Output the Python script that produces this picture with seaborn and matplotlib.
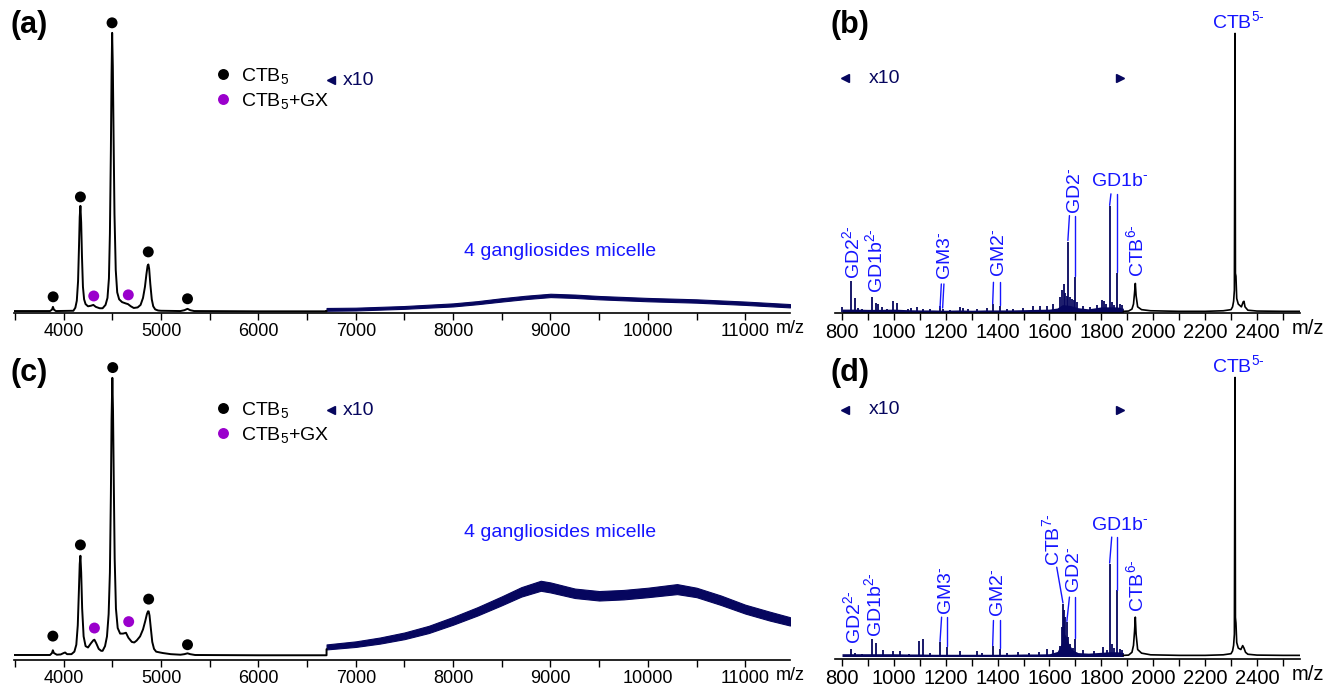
import matplotlib
matplotlib.use("Agg")
import matplotlib.pyplot as plt
from matplotlib.ticker import MultipleLocator
import seaborn as sns
import pandas as pd

NAVY = "#06065e"
BLUE = "#1616ff"
PURPLE = "#9a00cc"

# ---------------- panel (a): full native spectrum ----------------
a_mz = [3490, 3860, 3880, 3890, 3900, 3920, 4100, 4120, 4135, 4148, 4158, 4165, 4172,
        4180, 4188, 4198, 4210, 4225, 4250, 4280, 4305, 4330, 4370, 4400, 4430, 4450,
        4465, 4475, 4485, 4492, 4498, 4505, 4513, 4522, 4535, 4550, 4570, 4600, 4640,
        4660, 4690, 4720, 4760, 4790, 4815, 4835, 4850, 4862, 4870, 4878, 4890, 4905,
        4920, 4940, 4970, 5000, 5200, 5240, 5272, 5300, 5340, 6000, 6700, 6700]
a_int = [0.3, 0.3, 0.8, 1.8, 0.8, 0.3, 0.4, 1.5, 4.0, 11, 24, 34, 38,
         32, 20, 9, 4.5, 2.8, 2.0, 2.2, 2.5, 1.8, 1.3, 1.3, 2.5, 5,
         12, 28, 58, 85, 100, 88, 62, 35, 15, 7, 4.5, 3.5, 3.0,
         2.8, 2.0, 1.4, 1.6, 2.5, 5, 9, 13.5, 16.5, 17, 15.5, 10, 4.5,
         2.0, 0.9, 0.5, 0.4, 0.3, 0.6, 1.1, 0.6, 0.3, 0.2, 0.2, 0.4]
a_mic_mz = [6700, 7000, 7500, 8000, 8250, 8500, 8750, 9000, 9250, 9500, 10000,
            10500, 11000, 11460]
a_mic_int = [0.9, 1.0, 1.6, 2.5, 3.3, 4.3, 5.2, 5.9, 5.6, 5.1, 4.4, 3.9, 3.1, 2.2]
a_mic_half = [0.5, 0.5, 0.5, 0.55, 0.55, 0.6, 0.6, 0.6, 0.6, 0.6, 0.6, 0.6, 0.6, 0.6]
a_dot_mz = [3892, 4172, 4309, 4497, 4664, 4869, 5272]
a_dot_int = [5.4, 41.2, 5.7, 103.6, 6.1, 21.5, 4.7]
a_dot_kind = ["CTB$_5$", "CTB$_5$", "CTB$_5$+GX", "CTB$_5$", "CTB$_5$+GX", "CTB$_5$", "CTB$_5$"]

# ---------------- panel (c) ----------------
c_mz = [3490, 3860, 3880, 3889, 3900, 3930, 3970, 4000, 4015, 4035, 4080, 4110, 4130,
        4145, 4157, 4165, 4172, 4180, 4190, 4205, 4225, 4250, 4280, 4305, 4316, 4335,
        4360, 4385, 4400, 4425, 4445, 4462, 4475, 4485, 4492, 4500, 4507, 4515, 4524,
        4537, 4555, 4580, 4610, 4640, 4665, 4700, 4725, 4750, 4785, 4815, 4838, 4855,
        4866, 4873, 4882, 4895, 4910, 4928, 4950, 4990, 5020, 5100, 5200, 5240, 5272,
        5300, 5350, 6000, 6700, 6700]
c_int = [0.3, 0.3, 1.0, 2.0, 1.0, 0.4, 0.5, 1.0, 1.2, 0.6, 0.6, 1.5, 4,
         11, 24, 33, 36, 30, 17, 7, 3.5, 3.0, 4.5, 5.6, 5.8, 4.5,
         2.5, 1.8, 1.8, 3.5, 7, 15, 30, 58, 85, 100, 88, 62, 35,
         17, 10, 8, 8, 8.3, 6.5, 5.0, 4.8, 5.5, 7, 9.5, 12.5, 15,
         16, 16, 14.5, 10, 5, 2.5, 1.5, 1.2, 1.0, 0.6, 0.4, 0.6, 0.9,
         0.6, 0.3, 0.2, 0.2, 2.4]
c_mic_mz = [6700, 7000, 7250, 7500, 7750, 8000, 8250, 8500, 8700, 8900, 9000,
            9250, 9500, 9750, 10000, 10300, 10500, 10750, 11000, 11250, 11460]
c_mic_int = [3.2, 4.2, 5.5, 7.2, 9.5, 12.6, 16, 19.8, 23, 25.2, 24.6,
             22.5, 21.6, 22, 22.8, 24.0, 22.8, 20, 16.8, 14.3, 12.4]
c_mic_half = [0.9, 1.0, 1.1, 1.2, 1.3, 1.4, 1.5, 1.6, 1.7, 1.8, 1.8,
              1.7, 1.7, 1.7, 1.7, 1.8, 1.7, 1.7, 1.6, 1.6, 1.5]
c_dot_mz = [3889, 4172, 4316, 4504, 4668, 4873, 5272]
c_dot_int = [7.1, 39.9, 10.0, 103.7, 12.3, 20.4, 4.0]
c_dot_kind = a_dot_kind

# ---------------- panel (b): low m/z, x10 region + CTB ions ----------------
b_stick_mz = [800, 808, 836, 850, 863, 876, 889, 917, 931, 940, 953, 972, 995, 1011,
              1030, 1056, 1065, 1090, 1114, 1139, 1178, 1188, 1216, 1255, 1268, 1287,
              1319, 1358, 1381, 1409, 1435, 1461, 1499, 1538, 1563, 1589, 1615, 1641,
              1648, 1655, 1661, 1666, 1671, 1679, 1687, 1695, 1700, 1707, 1731, 1756,
              1782, 1801, 1810, 1818, 1832, 1841, 1849, 1862, 1872, 1881]
b_stick_int = [1.9, 1.0, 11.1, 5.1, 1.7, 1.3, 1.0, 5.7, 3.5, 2.9, 1.9, 1.3, 4.1, 3.5,
               1.0, 1.4, 1.7, 1.9, 1.2, 1.2, 2.2, 1.4, 1.0, 1.9, 1.5, 1.4,
               1.2, 1.7, 2.9, 2.4, 1.2, 1.4, 1.7, 2.2, 2.4, 2.4, 2.9, 5.5,
               7.9, 10.3, 6.9, 6.0, 25.4, 5.5, 4.9, 4.3, 12.7, 3.7, 2.2, 1.9,
               2.5, 4.5, 4.1, 3.1, 38.0, 3.7, 2.5, 14.1, 2.9, 2.5]
b_floor_mz = [800, 850, 900, 950, 1000, 1050, 1100, 1150, 1200, 1250, 1300, 1350, 1400,
              1450, 1500, 1550, 1600, 1630, 1650, 1680, 1710, 1750, 1800, 1830, 1860, 1885]
b_floor_int = [1.2, 1.2, 1.1, 1.1, 1.2, 1.0, 0.9, 0.9, 0.8, 0.9, 0.8, 0.9, 0.9,
               0.9, 1.0, 1.1, 1.2, 1.6, 2.8, 2.5, 1.7, 1.3, 2.0, 2.0, 2.0, 1.5]
b_tail_mz = [1885, 1905, 1918, 1924, 1928, 1931, 1934, 1940, 1955, 1990, 2100, 2200,
             2270, 2300, 2306, 2310, 2313, 2315.5, 2317, 2319, 2322, 2328, 2340, 2347,
             2350, 2354, 2365, 2400, 2500, 2566]
b_tail_int = [0.4, 0.5, 1.2, 3.0, 7.0, 10.4, 6.0, 2.0, 1.0, 0.6, 0.4, 0.4,
              0.6, 1.0, 2.0, 4.0, 8.0, 100, 14, 13, 5, 3, 2, 3.8,
              4.0, 2.0, 0.8, 0.5, 0.4, 0.4]

# ---------------- panel (d) ----------------
d_stick_mz = [833, 850, 876, 917, 931, 959, 995, 1023, 1060, 1098, 1114, 1139, 1178,
              1206, 1255, 1319, 1340, 1381, 1409, 1435, 1480, 1520, 1560, 1589, 1615,
              1641, 1648, 1653, 1657, 1661, 1666, 1671, 1679, 1690, 1700, 1731, 1770,
              1805, 1820, 1832, 1843, 1850, 1862, 1872, 1881]
d_stick_int = [2.7, 1.2, 1.0, 6.3, 4.8, 2.2, 1.9, 1.8, 1.0, 5.7, 6.3, 1.4, 5.1,
               3.3, 1.9, 1.9, 1.3, 3.6, 2.7, 1.4, 1.6, 1.4, 1.6, 2.7, 2.2,
               3.6, 10.5, 18.9, 16.5, 14, 12.3, 6.9, 4.5, 3.0, 6.3, 2.2, 2.0,
               3.3, 2.4, 33.2, 4.5, 3.0, 23.7, 2.8, 2.2]
d_floor_mz = [800, 850, 900, 950, 1000, 1050, 1100, 1150, 1200, 1250, 1300, 1350, 1400,
              1450, 1500, 1550, 1600, 1630, 1645, 1655, 1665, 1675, 1690, 1710, 1750,
              1800, 1830, 1860, 1885]
d_floor_int = [1.0, 1.0, 1.0, 1.0, 1.0, 0.9, 0.9, 0.8, 0.8, 0.8, 0.8, 0.8, 0.8,
               0.8, 0.9, 0.9, 1.0, 1.8, 4.5, 8.5, 7.0, 4.5, 2.3, 1.4, 1.2,
               1.5, 1.7, 1.7, 1.4]
d_tail_mz = [1885, 1905, 1918, 1924, 1928, 1931, 1934, 1940, 1955, 1990, 2100, 2200,
             2270, 2300, 2306, 2310, 2313, 2315.5, 2317, 2319, 2322, 2328, 2338, 2345,
             2350, 2356, 2365, 2400, 2500, 2566]
d_tail_int = [0.4, 0.5, 1.5, 4.0, 9.0, 14.1, 8.0, 2.5, 1.2, 0.6, 0.4, 0.4,
              0.6, 1.0, 2.0, 4.0, 8.0, 100, 14, 12, 5, 3, 2.5, 3.9,
              3.0, 1.5, 0.8, 0.5, 0.4, 0.4]

a_ticks = [4000, 5000, 6000, 7000, 8000, 9000, 10000, 11000]
b_ticks = [800, 1000, 1200, 1400, 1600, 1800, 2000, 2200, 2400]

# peak labels: text, m/z, intensity, rotation
HY = "\u2010"
b_labels = [("GD2$^{2" + HY + "}$", 838, 12.0, 90), ("GD1b$^{2" + HY + "}$", 926, 7.0, 90),
            ("GM3$^{" + HY + "}$", 1198, 11.5, 90), ("GM2$^{" + HY + "}$", 1406, 12.6, 90),
            ("GD2$^{" + HY + "}$", 1702, 35.4, 90), ("GD1b$^{" + HY + "}$", 1872, 44.0, 0),
            ("CTB$^{6" + HY + "}$", 1936, 12.6, 90), ("CTB$^{5" + HY + "}$", 2330, 100.5, 0)]
b_leaders = [((1183, 10.2), (1178, 1.6)), ((1193, 10.2), (1188, 1.6)),
             ((1384, 10.8), (1381, 3.1)), ((1409, 10.8), (1409, 2.6)),
             ((1677, 34.7), (1671, 25.8)), ((1700, 34.7), (1700, 13.2)),
             ((1837, 42.5), (1832, 38.4)), ((1862, 42.5), (1862, 14.4))]
d_labels = [("GD2$^{2" + HY + "}$", 844, 4.3, 90), ("GD1b$^{2" + HY + "}$", 925, 6.9, 90),
            ("GM3$^{" + HY + "}$", 1204, 14.7, 90), ("GM2$^{" + HY + "}$", 1404, 14.0, 90),
            ("CTB$^{7" + HY + "}$", 1611, 32.6, 90), ("GD2$^{" + HY + "}$", 1698, 22.6, 90),
            ("GD1b$^{" + HY + "}$", 1872, 44.0, 0), ("CTB$^{6" + HY + "}$", 1936, 15.9, 90),
            ("CTB$^{5" + HY + "}$", 2330, 100.5, 0)]
d_leaders = [((1184, 14.1), (1178, 5.4)), ((1206, 14.1), (1206, 3.6)),
             ((1384, 12.9), (1381, 3.9)), ((1409, 12.9), (1409, 3.0)),
             ((1628, 32.0), (1652, 19.2)), ((1677, 21.3), (1667, 12.6)),
             ((1700, 21.3), (1700, 6.6)), ((1840, 42.8), (1832, 33.5)),
             ((1862, 42.8), (1862, 24.0))]

sns.set_theme(style="ticks")
plt.rcParams["font.family"] = ["Liberation Sans", "DejaVu Sans"]
plt.rcParams["mathtext.default"] = "regular"
plt.rcParams["text.color"] = "black"
plt.rcParams["xtick.color"] = "black"

W, H = 1328, 688
fig = plt.figure(figsize=(W / 100, H / 100), dpi=100)


def px_axes(left, top, right, bottom):
    return fig.add_axes([left / W, 1 - bottom / H, (right - left) / W, (bottom - top) / H])


def style_axis(ax, xlim, ylim, ticks, minor, wide):
    ax.set_xlim(*xlim)
    ax.set_ylim(*ylim)
    fs = 13 if wide else 14.5
    ax.set_xticks(ticks, labels=[str(t) for t in ticks], fontsize=fs, color="black")
    ax.xaxis.set_minor_locator(MultipleLocator(minor))
    ax.tick_params(axis="x", which="both", direction="out", length=5, width=1.0,
                   color="black", pad=2)
    ax.yaxis.set_visible(False)
    sns.despine(ax=ax, left=True)
    ax.spines["bottom"].set_linewidth(1.2)
    ax.spines["bottom"].set_color("black")
    ax.set_xlabel("")
    ax.set_ylabel("")
    if wide:
        ax.text(0.982, -0.052, "m/z", transform=ax.transAxes, ha="left", va="center",
                fontsize=fs)
    else:
        ax.text(1.017, -0.052, "m/z", transform=ax.transAxes, ha="center", va="center",
                fontsize=fs)


def draw_native(ax, mz, inten, mic_mz, mic_int, mic_half, dot_mz, dot_int, dot_kind,
                x10_y, text_y, legend_y):
    sns.lineplot(x=mz, y=inten, estimator=None, sort=False, color="black", lw=1.4, ax=ax)
    low = [m - h for m, h in zip(mic_int, mic_half)]
    high = [m + h for m, h in zip(mic_int, mic_half)]
    ax.fill_between(mic_mz, low, high, color=NAVY, lw=0.8, edgecolor=NAVY)
    dots = pd.DataFrame({"mz": dot_mz, "h": dot_int, "kind": dot_kind})
    sns.scatterplot(data=dots, x="mz", y="h", hue="kind",
                    palette={"CTB$_5$": "black", "CTB$_5$+GX": PURPLE},
                    s=62, linewidth=0, ax=ax, zorder=5)
    sns.move_legend(ax, "upper left", bbox_to_anchor=(0.2564, legend_y), frameon=False,
                    title=None, fontsize=14, borderpad=0, borderaxespad=0,
                    handlelength=1.0, handletextpad=0.45, labelspacing=0.25)
    ax.plot([6745], [x10_y], marker="<", ms=6, color=NAVY, ls="none")
    ax.text(6868, x10_y, "x10", color=NAVY, fontsize=14, va="center", ha="left")
    ax.text(9096, text_y, "4 gangliosides micelle", color=BLUE, fontsize=14,
            ha="center", va="center")


def draw_low(ax, stick_mz, stick_int, floor_mz, floor_int, tail_mz, tail_int,
             labels, leaders, x10_y):
    ax.fill_between(floor_mz, 0, floor_int, color=NAVY, lw=0)
    ax.vlines(stick_mz, 0, stick_int, color=NAVY, lw=1.3)
    sns.lineplot(x=tail_mz, y=tail_int, estimator=None, sort=False, color="black",
                 lw=1.2, ax=ax)
    for (x0, y0), (x1, y1) in leaders:
        ax.plot([x0, x1], [y0, y1], color=BLUE, lw=1.0)
    for txt, x, y, rot in labels:
        ax.text(x, y, txt, rotation=rot, color=BLUE, fontsize=14, ha="center",
                va="bottom")
    ax.plot([811], [x10_y], marker="<", ms=6, color=NAVY, ls="none")
    ax.plot([1872], [x10_y], marker=">", ms=6, color=NAVY, ls="none")
    ax.text(904, x10_y, "x10", color=NAVY, fontsize=14, va="center", ha="left")


ax_a = px_axes(14, 10, 790, 313)
ax_b = px_axes(835, 10, 1300, 313)
ax_c = px_axes(14, 357, 790, 660)
ax_d = px_axes(835, 356, 1300, 659)

draw_native(ax_a, a_mz, a_int, a_mic_mz, a_mic_int, a_mic_half, a_dot_mz, a_dot_int,
            a_dot_kind, 83.1, 21.6, 0.815)
draw_native(ax_c, c_mz, c_int, c_mic_mz, c_mic_int, c_mic_half, c_dot_mz, c_dot_int,
            c_dot_kind, 88.4, 44.2, 0.858)
draw_low(ax_b, b_stick_mz, b_stick_int, b_floor_mz, b_floor_int, b_tail_mz, b_tail_int,
         b_labels, b_leaders, 84.0)
draw_low(ax_d, d_stick_mz, d_stick_int, d_floor_mz, d_floor_int, d_tail_mz, d_tail_int,
         d_labels, d_leaders, 88.5)

style_axis(ax_a, (3490, 11460), (-0.4, 108.2), a_ticks, 500, True)
style_axis(ax_c, (3490, 11460), (-1.5, 107.5), a_ticks, 500, True)
style_axis(ax_b, (773, 2566), (-0.2, 108.4), b_ticks, 100, False)
style_axis(ax_d, (773, 2566), (-0.9, 107.7), b_ticks, 100, False)

for lbl, (x, y) in zip(["(a)", "(b)", "(c)", "(d)"],
                       [(10, 10), (830, 10), (10, 358), (830, 358)]):
    fig.text(x / W, 1 - y / H, lbl, fontsize=22, fontweight="bold", va="top", ha="left")

fig.savefig("out.png", dpi=100)
